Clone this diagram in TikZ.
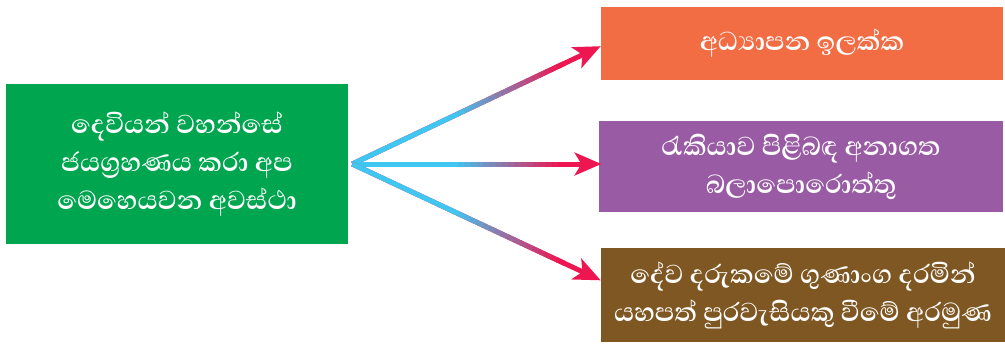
\documentclass[tikz,border=0pt]{standalone}
\usepackage{fontspec}
\newfontfamily\sinhala[Script=Sinhala]{Abhaya Libre}
\usetikzlibrary{arrows.meta,calc}
\definecolor{boxgreen}{HTML}{00A64F}
\definecolor{boxorange}{HTML}{F26C44}
\definecolor{boxpurple}{HTML}{9A5BA5}
\definecolor{boxbrown}{HTML}{7F5722}
\definecolor{arrcyan}{HTML}{3FC7F2}
\definecolor{arrpink}{HTML}{EE1651}
\begin{document}
\begin{tikzpicture}[x=0.75pt,y=-0.75pt,
  box/.style={inner sep=0pt, text=white, align=center,
    font=\sinhala\bfseries\fontsize{25}{28.5}\selectfont},
  arrline/.style={line width=3.75pt, arrpink, -{Stealth[length=20pt,width=17pt,inset=5pt]}},
  segline/.style={line width=3.75pt}]
\useasboundingbox (0,0) rectangle (1005,343);
\node[box, fill=boxgreen, minimum width=256.5pt, minimum height=120pt] (src) at (177,164)
  {දෙවියන් වහන්සේ\\ජයග්‍රහණය කරා අප\\මෙහෙයවන අවස්ථා};
\node[box, fill=boxorange, minimum width=301.5pt, minimum height=54.75pt] (orange) at (802,43.5)
  {අධ්‍යාපන ඉලක්ක};
\node[box, fill=boxpurple, minimum width=303pt, minimum height=68.25pt] (purple) at (801,166.5)
  {රැකියාව පිළිබඳ අනාගත\\බලාපොරොත්තු};
\node[box, fill=boxbrown, minimum width=303pt, minimum height=70.5pt] (brown) at (803,295)
  {දේව දරුකමේ ගුණාංග දරමින්\\යහපත් පුරවැසියකු වීමේ අරමුණ};
\coordinate (s) at ([xshift=3pt]src.east);
\coordinate (t1) at ([yshift=-2pt]orange.west);
\coordinate (t2) at ([xshift=2pt]s -| purple.west);
\coordinate (t3) at ([yshift=11pt]brown.west);
\foreach \t in {t1,t2,t3}{
  \draw[arrline] (s) -- (\t);
  \foreach \i in {0,...,33}{
    \pgfmathsetmacro\a{\i/40}
    \pgfmathsetmacro\b{(\i+1.2)/40}
    \pgfmathsetmacro\pc{max(0,min(100,(\a-0.4)/0.42*100))}
    \draw[segline, color=arrpink!\pc!arrcyan] ($(s)!\a!(\t)$) -- ($(s)!\b!(\t)$);
  }
}
\end{tikzpicture}
\end{document}
